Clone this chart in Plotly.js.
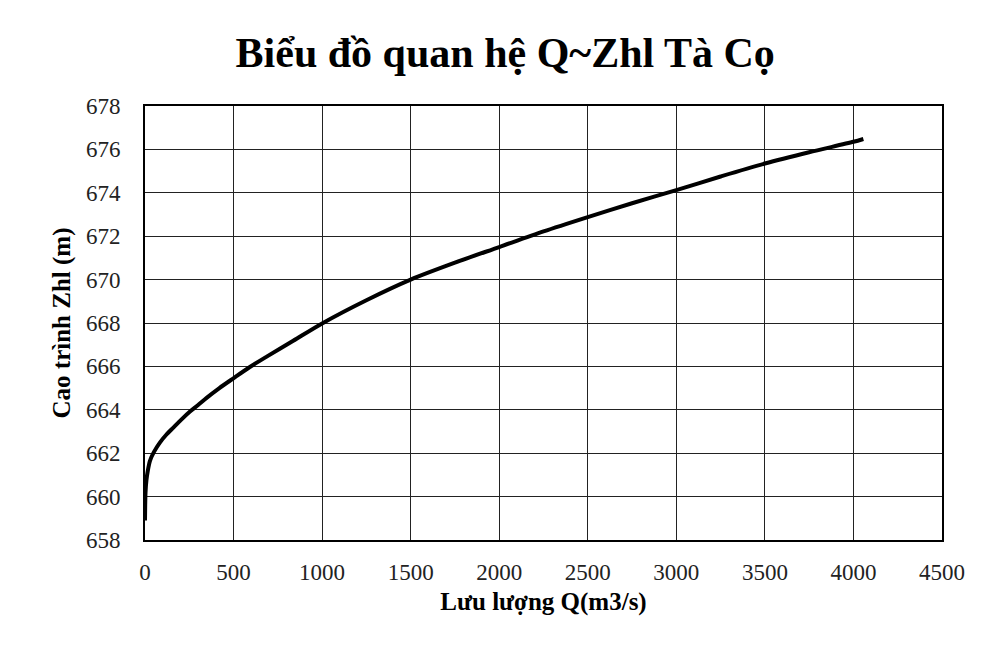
<!DOCTYPE html>
<html>
<head>
<meta charset="utf-8">
<script src="https://cdn.plot.ly/plotly-3.0.1.min.js"></script>
<style>html,body{margin:0;padding:0;background:#fff;}#chart{width:981px;height:649px;}</style>
</head>
<body>
<div id="chart"></div>
<script>
const discharge = [0, 1, 3, 8, 16, 28, 50, 85, 120, 160, 205, 254, 300, 348, 420, 499, 590, 687, 837, 1000, 1250, 1500, 1750, 2000, 2250, 2500, 2750, 3000, 3250, 3500, 3750, 4000, 4056];
const waterLevel = [658.9, 659.6, 660.2, 660.75, 661.2, 661.65, 662.05, 662.5, 662.85, 663.18, 663.55, 663.92, 664.22, 664.55, 665.0, 665.45, 665.96, 666.45, 667.18, 667.98, 669.05, 670.0, 670.78, 671.5, 672.22, 672.88, 673.52, 674.12, 674.75, 675.35, 675.87, 676.35, 676.48];
const xTicks = [0, 500, 1000, 1500, 2000, 2500, 3000, 3500, 4000, 4500];
const yTicks = [658, 660, 662, 664, 666, 668, 670, 672, 674, 676, 678];

const serif = 'Liberation Serif';

Plotly.newPlot('chart', [{
  x: discharge,
  y: waterLevel,
  type: 'scatter',
  mode: 'lines',
  line: {color: '#000', width: 4, shape: 'spline', smoothing: 0.8},
  hoverinfo: 'skip'
}], {
  width: 981, height: 649,
  margin: {l: 145, r: 39, t: 106, b: 109},
  paper_bgcolor: '#fff',
  plot_bgcolor: '#fff',
  showlegend: false,
  font: {family: serif},
  title: {text: '<b>Biểu đồ quan hệ Q~Zhl Tà Cọ</b>', font: {family: serif, size: 42, color: '#000'}, x: 0.515, xanchor: 'center', y: 0.92, yanchor: 'middle'},
  xaxis: {
    range: [0, 4500], tickvals: xTicks, ticktext: xTicks.map(String),
    showgrid: true, gridcolor: '#222', gridwidth: 1,
    zeroline: false, showline: true, linecolor: '#000', linewidth: 2, mirror: true,
    ticks: '', ticklabelstandoff: 10,
    tickfont: {family: serif, size: 23, color: '#222'},
    title: {text: '<b>Lưu lượng Q(m3/s)</b>', font: {family: serif, size: 25, color: '#000'}, standoff: 9}
  },
  yaxis: {
    range: [658, 678], tickvals: yTicks, ticktext: yTicks.map(String),
    showgrid: true, gridcolor: '#222', gridwidth: 1,
    zeroline: false, showline: true, linecolor: '#000', linewidth: 2, mirror: true,
    ticks: '', ticklabelstandoff: 18,
    tickfont: {family: serif, size: 23, color: '#222'},
    title: {text: '<b>Cao trình Zhl (m)</b>', font: {family: serif, size: 25, color: '#000'}, standoff: 8}
  }
}, {displayModeBar: false, staticPlot: true});
</script>
</body>
</html>
